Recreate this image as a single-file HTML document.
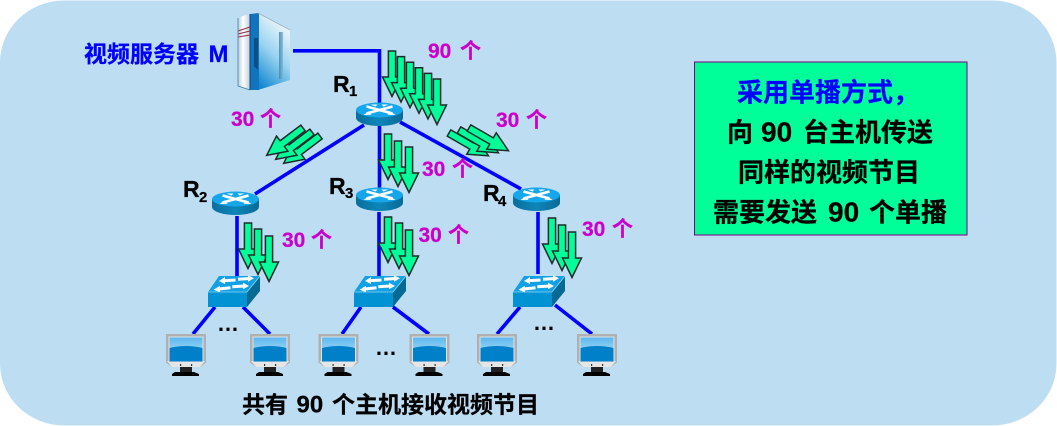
<!DOCTYPE html>
<html lang="zh">
<head>
<meta charset="utf-8">
<title>单播</title>
<style>
html,body{margin:0;padding:0;background:#fff;width:1057px;height:426px;overflow:hidden}
svg{display:block}
text{font-family:"Liberation Sans","Noto Sans CJK SC",sans-serif;font-weight:bold}
.m{fill:#CC00CC;stroke:#CC00CC;stroke-width:.25;font-size:21px}
.k{fill:#000;stroke:#000;stroke-width:.25;font-size:23px}
.r{fill:#000;stroke:#000;stroke-width:.3;font-size:23px}
.s{fill:#000;stroke:#000;stroke-width:.2;font-size:15px}
.b{fill:#000;stroke:#000;stroke-width:.25;font-size:26px}
.d{fill:#000;stroke:#000;stroke-width:.25;font-size:28px}
.u{fill:#0000FF;stroke:#0000FF;stroke-width:.25}
</style>
</head>
<body>
<svg width="1057" height="426" viewBox="0 0 1057 426" xmlns="http://www.w3.org/2000/svg">
<defs>
  <linearGradient id="rs" x1="0" x2="1" y1="0" y2="0">
    <stop offset="0" stop-color="#0A6E9C"/><stop offset=".5" stop-color="#0C86B8"/><stop offset="1" stop-color="#0A6A96"/>
  </linearGradient>
  <linearGradient id="scr" x1="0" x2="0" y1="0" y2="1">
    <stop offset="0" stop-color="#5DB8EE"/><stop offset="1" stop-color="#CDEBFB"/>
  </linearGradient>
  <linearGradient id="sf" x1="0.6" x2="0.2" y1="0" y2="1">
    <stop offset="0" stop-color="#F6FAFC"/><stop offset=".5" stop-color="#9AD4F0"/><stop offset="1" stop-color="#1288D0"/>
  </linearGradient>
  <linearGradient id="sl" x1="0" x2="1" y1="0" y2="0">
    <stop offset="0" stop-color="#B8CCD8"/><stop offset=".4" stop-color="#FFFFFF"/><stop offset="1" stop-color="#B4C8D6"/>
  </linearGradient>
  <linearGradient id="pn" x1="0" x2="1" y1="0" y2="0">
    <stop offset="0" stop-color="#3F86AE"/><stop offset="1" stop-color="#7FB8D4"/>
  </linearGradient>
  <g id="arrow">
    <path d="M-3.6 0H3.6V26H9.5L0 45.500L-9.5 26H-3.6Z" fill="#00FF99" stroke="#1C2B2B" stroke-width="1.5" stroke-linejoin="miter"/>
  </g>
  <g id="router">
    <path d="M-23.5 -8V0A23.5 8 0 0 0 23.5 0V-8Z" fill="url(#rs)"/>
    <ellipse cx="0" cy="-8" rx="23.5" ry="7.500" fill="#16A6EC"/>
    <path d="M-13 -11.500L13 -4.500M13 -11.500L-13 -4.500" stroke="#fff" stroke-width="2.6" fill="none"/>
    <path d="M-2 -13.500H-9L-4 -11.500Z M2 -13.500H9L4 -11.500Z M-16 -3L-8 -3.200L-11 -6.500Z M16 -3L8 -3.200L11 -6.500Z" fill="#fff"/>
  </g>
  <g id="switch">
    <path d="M11 0H52L39 16H0Z" fill="#12A0E6"/>
    <rect x="0" y="16" width="39" height="15" fill="#0092D2"/>
    <path d="M39 16L52 0V15L39 31Z" fill="#066A94"/>
    <path d="M0 16H39L52 0" stroke="#8FD8F8" stroke-width=".8" fill="none"/>
    <g stroke="#fff" stroke-width="3" fill="none">
      <path d="M15 4.700L27.500 4M30 3.300L42 2.500M9 13.300L22.500 11.700M24.300 10.700L37 10"/>
    </g>
    <path d="M11 5L17 1V8Z M46 2.300L40 -0.800V5.800Z M5.500 13.700L12 9.800V16.300Z M41 10L35 6.700V13.300Z" fill="#fff"/>
  </g>
  <g id="monitor">
    <path d="M0 0H40V28.500L34 33H6L0 28.500Z" fill="#B0B0B0"/>
    <path d="M1 27H39L34 33H6Z" fill="#E6E6E6"/>
    <rect x="2.500" y="2.500" width="35" height="25.500" fill="#D8E4EC"/>
    <rect x="3.500" y="3.500" width="33" height="24" fill="url(#scr)"/>
    <path d="M3.500 14Q20 10 36.500 14V27.500H3.500Z" fill="#0080C8"/>
    <rect x="14" y="33" width="12" height="5" fill="#222"/>
    <path d="M9 38H28L33 40V42H6V40Z" fill="#000"/>
    <rect x="14" y="30" width="1.200" height="2" fill="#333"/><rect x="25" y="30" width="1.200" height="2" fill="#333"/>
  </g>
</defs>

<rect x="0" y="0.500" width="1056.500" height="425" rx="64" ry="62" fill="#BDDDF3"/>

<!-- Links -->
<g stroke="#0000FF" stroke-width="3.600" fill="none">
  <path d="M293 50.800H379.500V103"/>
  <path d="M379.500 126V188"/>
  <path d="M364 125L255 194"/>
  <path d="M400 122L521 189"/>
  <path d="M237 216V276"/>
  <path d="M379 212V276"/>
  <path d="M538 212V274"/>
  <path d="M215 307L193 334"/>
  <path d="M243 307L270 334"/>
  <path d="M361 307L342 334"/>
  <path d="M393 307L429 334"/>
  <path d="M520 307L497 334"/>
  <path d="M555 305L592 334"/>
</g>

<!-- Server -->
<g>
  <path d="M258 13L290 30V80L258 90Z" fill="url(#sf)"/>
  <rect x="279" y="32" width="4" height="47" fill="url(#pn)" opacity=".85"/>
  <path d="M238 18Q244 15 251 14V90L238 86Z" fill="url(#sl)"/>
  <path d="M250 14L259 13V90L250 90Z" fill="#1274BC"/>
  <path d="M254 38H258V70L254 66Z" fill="#0B4F86"/>
  <path d="M250 14V90" stroke="#123F8A" stroke-width="1"/>
  <path d="M238 31L250 27M238 34L250 31M238 37L250 35" stroke="#A02A3C" stroke-width="1" fill="none"/>
  <path d="M258 13L290 30" stroke="#9FB0BC" stroke-width=".8" fill="none"/>
  <path d="M238 18V86L250 90" stroke="#2E78A8" stroke-width=".7" fill="none"/>
</g>

<!-- Routers -->
<use href="#router" x="379.500" y="118"/>
<use href="#router" x="235.500" y="207"/>
<use href="#router" x="379.500" y="203"/>
<use href="#router" x="536.500" y="203"/>

<!-- Switches -->
<use href="#switch" x="208" y="276"/>
<use href="#switch" x="354" y="276"/>
<use href="#switch" x="513" y="276"/>

<!-- Monitors -->
<use href="#monitor" x="166" y="334"/>
<use href="#monitor" x="250" y="334"/>
<use href="#monitor" x="318.500" y="334"/>
<use href="#monitor" x="409.500" y="334"/>
<use href="#monitor" x="477" y="334"/>
<use href="#monitor" x="577" y="334"/>

<!-- Arrows: 90 -->
<use href="#arrow" x="392" y="51"/>
<use href="#arrow" x="401" y="56.600"/>
<use href="#arrow" x="410" y="62.200"/>
<use href="#arrow" x="419" y="67.800"/>
<use href="#arrow" x="428" y="73.400"/>
<use href="#arrow" x="437" y="79"/>

<!-- left -->
<use href="#arrow" transform="translate(320,136) rotate(53)"/>
<use href="#arrow" transform="translate(312,132) rotate(53)"/>
<use href="#arrow" transform="translate(303,128) rotate(53)"/>
<!-- right -->
<use href="#arrow" transform="translate(449,133) rotate(-60)"/>
<use href="#arrow" transform="translate(459,130) rotate(-60)"/>
<use href="#arrow" transform="translate(469,128) rotate(-60)"/>
<!-- R1-R3 -->
<use href="#arrow" x="388" y="134"/>
<use href="#arrow" x="398" y="141"/>
<use href="#arrow" x="409" y="147"/>
<!-- R2 -->
<use href="#arrow" x="248" y="223"/>
<use href="#arrow" x="258" y="229"/>
<use href="#arrow" x="269" y="236"/>
<!-- R3 -->
<use href="#arrow" x="388" y="217"/>
<use href="#arrow" x="399" y="223"/>
<use href="#arrow" x="409" y="230"/>
<!-- R4 -->
<use href="#arrow" x="552" y="218"/>
<use href="#arrow" x="562" y="225"/>
<use href="#arrow" x="572" y="232"/>

<!-- Labels -->
<text class="u" x="84" y="62" font-size="23">视频服务器</text>
<text class="u" x="208.500" y="62" font-size="24">M</text>

<text class="r" x="333" y="92">R</text><text class="s" x="349" y="96">1</text>
<text class="r" x="183" y="197">R</text><text class="s" x="199" y="202">2</text>
<text class="r" x="329" y="194">R</text><text class="s" x="345" y="198">3</text>
<text class="r" x="483" y="201">R</text><text class="s" x="498" y="206">4</text>

<text class="m" x="428" y="58">90</text><text class="m" x="460" y="58">个</text>
<text class="m" x="231" y="126">30</text><text class="m" x="260" y="126">个</text>
<text class="m" x="496" y="127">30</text><text class="m" x="526" y="127">个</text>
<text class="m" x="422" y="176">30</text><text class="m" x="452" y="176">个</text>
<text class="m" x="282" y="247">30</text><text class="m" x="311" y="247">个</text>
<text class="m" x="418.500" y="242">30</text><text class="m" x="448" y="242">个</text>
<text class="m" x="582" y="236">30</text><text class="m" x="612" y="236">个</text>

<text x="217" y="331" font-size="22" fill="#000">…</text>
<text x="375" y="355" font-size="22" fill="#000">…</text>
<text x="533" y="330" font-size="22" fill="#000">…</text>

<text class="k" x="242" y="412.500">共有</text>
<text class="k" x="296.500" y="412.500" style="font-size:24px">90</text>
<text class="k" x="332" y="412.500">个主机接收视频节目</text>

<!-- Right box -->
<rect x="694.500" y="62" width="272.500" height="173" fill="#00FF99" stroke="#800080" stroke-width="1"/>
<text class="u" x="737" y="101.500" font-size="26">采用单播方式，</text>
<text class="b" x="727" y="141.500">向</text><text class="d" x="761" y="141.500">90</text><text class="b" x="803" y="141.500">台主机传送</text>
<text class="b" x="738" y="181.500">同样的视频节目</text>
<text class="b" x="713" y="221.500">需要发送</text><text class="d" x="828" y="221.500">90</text><text class="b" x="869" y="221.500">个单播</text>
</svg>
</body>
</html>
